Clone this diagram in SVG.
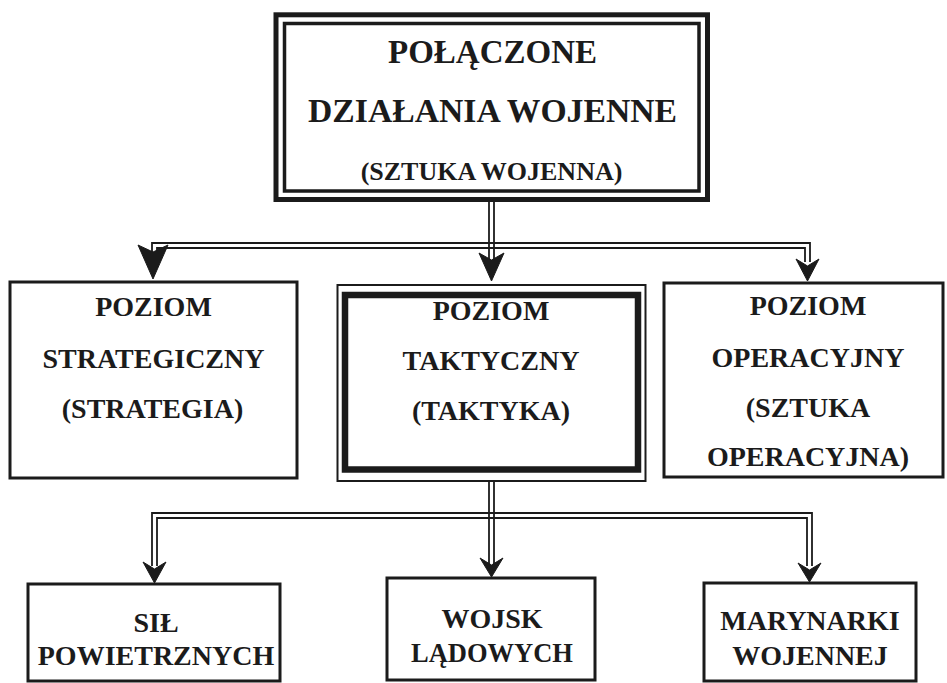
<svg xmlns="http://www.w3.org/2000/svg" width="947" height="683" viewBox="0 0 947 683">
<defs>
<style>
.t{font-family:"Liberation Serif","Times New Roman",serif;font-weight:bold;fill:#1b1b1b;text-anchor:middle}
.f28{font-size:28px}
.box{fill:none;stroke:#1b1b1b;stroke-width:3}
.ln{stroke:#1b1b1b;stroke-width:1.8;fill:none}
.ah{fill:#1b1b1b;stroke:#1b1b1b;stroke-width:1;stroke-linejoin:round}
</style>
</defs>
<rect width="947" height="683" fill="#ffffff"/>

<g id="connectors">
<!-- top box to middle row -->
<line class="ln" x1="489" y1="202" x2="489" y2="262"/>
<line class="ln" x1="494" y1="202" x2="494" y2="262"/>
<polyline class="ln" points="152,252 152,243 810,243 810,262"/>
<polyline class="ln" points="157,252 157,248 805,248 805,262"/>
<path class="ah" d="M138,245 L153,252 L168,245 L153,279 Z"/>
<path class="ah" d="M479,253 L491.5,260 L504,253 L491.5,281 Z"/>
<path class="ah" d="M796,259 L807.5,266 L819,259 L807.5,281 Z"/>
<!-- tactical to bottom row -->
<line class="ln" x1="489" y1="482" x2="489" y2="565"/>
<line class="ln" x1="494" y1="482" x2="494" y2="565"/>
<polyline class="ln" points="152,566 152,513 812,513 812,566"/>
<polyline class="ln" points="157,566 157,518 807,518 807,566"/>
<path class="ah" d="M143,562 L154.5,569 L166,562 L154.5,583 Z"/>
<path class="ah" d="M480,558 L491.5,565 L503,558 L491.5,577 Z"/>
<path class="ah" d="M798,563 L809.5,570 L821,563 L809.5,582 Z"/>
</g>

<g id="node-top">
<rect x="276" y="14.8" width="431.5" height="184.7" fill="none" stroke="#1b1b1b" stroke-width="5"/>
<rect x="284.5" y="23.5" width="414.5" height="167.5" fill="none" stroke="#1b1b1b" stroke-width="3.5"/>
<text class="t" x="492.5" y="63" font-size="33" textLength="209" lengthAdjust="spacingAndGlyphs">POŁĄCZONE</text>
<text class="t" x="492.5" y="122" font-size="33" textLength="369" lengthAdjust="spacingAndGlyphs">DZIAŁANIA WOJENNE</text>
<text class="t" x="491.5" y="180" font-size="26">(SZTUKA WOJENNA)</text>
</g>

<g id="node-strategic">
<rect class="box" x="10" y="282" width="287" height="196"/>
<text class="t f28" x="153.5" y="316">POZIOM</text>
<text class="t f28" x="153.5" y="368">STRATEGICZNY</text>
<text class="t f28" x="152.5" y="418">(STRATEGIA)</text>
</g>

<g id="node-tactical">
<rect x="337.5" y="285" width="308" height="196" fill="none" stroke="#1b1b1b" stroke-width="2"/>
<rect x="345" y="295" width="293" height="174.5" fill="none" stroke="#1b1b1b" stroke-width="6.5"/>
<text class="t f28" x="491" y="320">POZIOM</text>
<text class="t f28" x="491" y="370">TAKTYCZNY</text>
<text class="t f28" x="491" y="420">(TAKTYKA)</text>
</g>

<g id="node-operational">
<rect class="box" x="664" y="283" width="279" height="194"/>
<text class="t f28" x="808" y="315">POZIOM</text>
<text class="t f28" x="808" y="367">OPERACYJNY</text>
<text class="t f28" x="808" y="417">(SZTUKA</text>
<text class="t f28" x="808" y="466">OPERACYJNA)</text>
</g>

<g id="node-air">
<rect class="box" x="28" y="584" width="252" height="97"/>
<text class="t f28" x="156" y="632">SIŁ</text>
<text class="t f28" x="156" y="665">POWIETRZNYCH</text>
</g>

<g id="node-land">
<rect class="box" x="387" y="578" width="208" height="102"/>
<text class="t f28" x="492" y="628">WOJSK</text>
<text class="t f28" x="492" y="662" textLength="162" lengthAdjust="spacingAndGlyphs">LĄDOWYCH</text>
</g>

<g id="node-navy">
<rect class="box" x="704" y="583" width="212" height="98"/>
<text class="t f28" x="810" y="630">MARYNARKI</text>
<text class="t f28" x="810" y="665">WOJENNEJ</text>
</g>
</svg>
